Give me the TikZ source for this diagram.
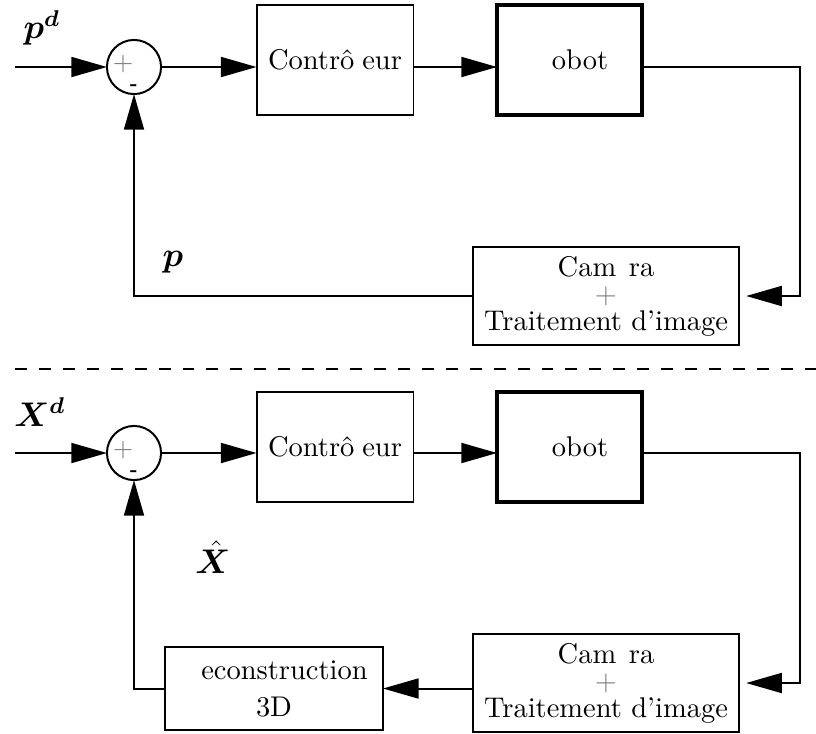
\documentclass[tikz,border=0pt]{standalone}
\usepackage{bm}
\usetikzlibrary{arrows.meta}
\begin{document}
\begin{tikzpicture}[x=0.351pt,y=-0.351pt,
  line width=0.7pt,
  blk/.style={draw, inner sep=0pt, outer sep=0pt, align=center, font=\fontsize{10}{12}\selectfont},
  thickblk/.style={blk, line width=1.5pt},
  sumc/.style={draw, circle, minimum size=19pt, inner sep=0pt, outer sep=0pt},
  plussign/.style={font=\fontsize{9}{9}\selectfont, text=gray, inner sep=0pt},
  minussign/.style={font=\fontsize{6}{6}\selectfont\bfseries, inner sep=0pt},
  arr/.style={-{Triangle[length=12.5pt,width=7pt]}},
  lbl/.style={font=\large, inner sep=0pt}]
\useasboundingbox (0,0) rectangle (816,733);

% ---------- top loop ----------
\coordinate (in1) at (15,67);
\node[sumc] (s1) at (134,67) {};
\node[plussign] (s1p) at (123,64) {$+$};
\node[minussign] (s1m) at (134,87) {-};
\node[blk, minimum width=55.1pt, minimum height=38.6pt] (c1) at (335,60) {Contr\^o\phantom{l}eur};
\node[thickblk, minimum width=50.9pt, minimum height=38.6pt] (r1) at (569.5,60) {\phantom{R}obot};
\node[blk, minimum width=93.4pt, minimum height=34.4pt] (cam1) at (606,296)
  {Cam\phantom{\'e}ra\\[-2.5pt]\textcolor{gray}{$+$}\\[-2.5pt]Traitement d'image};
\coordinate (rt1) at (800,67);
\node[lbl] (pd) at (42,28) {$\bm{p}^{\bm{d}}$};
\node[lbl] (p) at (173,262) {$\bm{p}$};

\draw[arr] (in1) -- (s1.west);
\draw[arr] (s1.east) -- (c1.west |- s1.east);
\draw[arr] (c1.east |- s1.east) -- (r1.west |- s1.east);
\draw[arr, shorten >=2.5pt] (r1.east |- s1.east) -- (rt1) |- (cam1.east);
\draw[arr] (cam1.west) -| (s1.south);

% ---------- separator ----------
\coordinate (dl) at (15,369);
\coordinate (dr) at (816,369);
\draw[dash pattern=on 4.2pt off 4.2pt] (dl) -- (dr);

% ---------- bottom loop ----------
\coordinate (in2) at (15,453);
\node[sumc] (s2) at (134,453) {};
\node[plussign] (s2p) at (123,450) {$+$};
\node[minussign] (s2m) at (134,473) {-};
\node[blk, minimum width=55.1pt, minimum height=38.6pt] (c2) at (335,447) {Contr\^o\phantom{l}eur};
\node[thickblk, minimum width=50.9pt, minimum height=38.6pt] (r2) at (569.5,447) {\phantom{R}obot};
\node[blk, minimum width=93.4pt, minimum height=34.4pt] (cam2) at (606,683)
  {Cam\phantom{\'e}ra\\[-2.5pt]\textcolor{gray}{$+$}\\[-2.5pt]Traitement d'image};
\node[blk, minimum width=76.5pt, minimum height=29.1pt] (rec) at (274,688.5)
  {\phantom{R}econstruction\\[1pt]3D};
\coordinate (rt2) at (800,453);
\node[lbl] (xd) at (40,412) {$\bm{X}^{\bm{d}}$};
\node[lbl] (xh) at (213,557) {$\hat{\bm{X}}$};

\draw[arr] (in2) -- (s2.west);
\draw[arr] (s2.east) -- (c2.west |- s2.east);
\draw[arr] (c2.east |- s2.east) -- (r2.west |- s2.east);
\draw[arr, shorten >=2.5pt] (r2.east |- s2.east) -- (rt2) |- (cam2.east);
\draw[arr] (cam2.west |- rec.east) -- (rec.east);
\draw[arr] (rec.west) -| (s2.south);
\end{tikzpicture}
\end{document}
